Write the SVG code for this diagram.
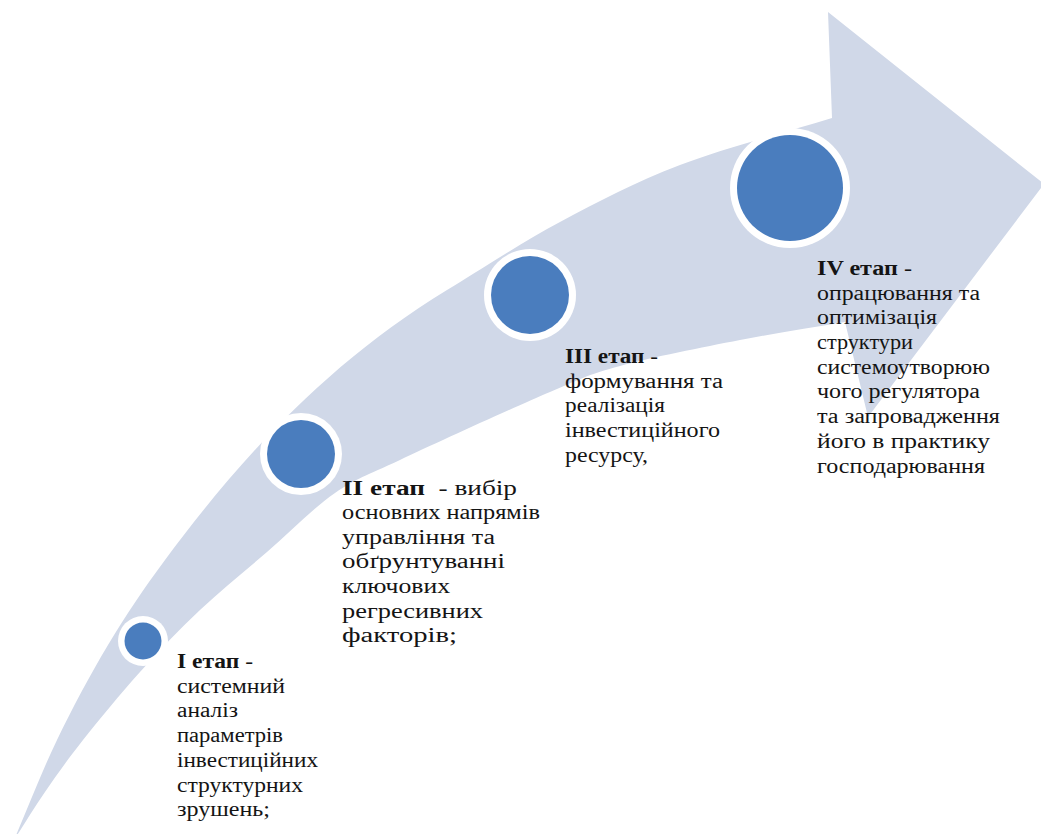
<svg xmlns="http://www.w3.org/2000/svg" width="1041" height="834" viewBox="0 0 1041 834">
<style>
.band{fill:#D0D8E8;stroke:none}
.ring{fill:#FFFFFF}
.dot{fill:#4A7DBE}
.t{font-family:"Liberation Serif","Times New Roman",serif;font-size:20px;fill:#141414}
.b{font-weight:bold}
</style>
<rect width="1041" height="834" fill="#FFFFFF"/>
<g id="connectors">
<path id="arrow" class="band" d="M14,840 C28.3,806.7 41.3,772.5 57,740 C72.7,707.5 90,675 108,645 C126,615 143,589.7 165,560 C228,475 317,369 447,290 C480,270 521.2,242.8 560,222 C598.8,201.2 634.7,182.3 680,165 C725.3,147.7 781.3,133.7 832,118 L828,12 L1044,184 L868,417 L845,322 C810,328 777.5,332.7 740,340 C702.5,347.3 651.7,357.3 620,366 C588.3,374.7 586.7,376.3 550,392 C513.3,407.7 435.8,443.2 400,460 C364.2,476.8 357.2,477.7 335,493 C312.8,508.3 289.5,532.5 267,552 C244.5,571.5 221.2,590 200,610 C178.8,630 159.5,650.3 140,672 C120.5,693.7 98.8,720 83,740 C67.2,760 56.5,775.3 45,792 C33.5,808.7 24.3,824 14,840 Z"/>
</g>
<g id="stage1">
<circle class="ring" cx="143" cy="641" r="25"/>
<circle class="dot" cx="143" cy="641" r="18.5"/>
<text class="t" x="177" y="668" textLength="76" lengthAdjust="spacingAndGlyphs"><tspan class="b">I етап</tspan> -</text>
<text class="t" x="177" y="693" textLength="108" lengthAdjust="spacingAndGlyphs">системний</text>
<text class="t" x="177" y="717" textLength="61" lengthAdjust="spacingAndGlyphs">аналіз</text>
<text class="t" x="177" y="742" textLength="106" lengthAdjust="spacingAndGlyphs">параметрів</text>
<text class="t" x="177" y="767" textLength="141" lengthAdjust="spacingAndGlyphs">інвестиційних</text>
<text class="t" x="177" y="792" textLength="126" lengthAdjust="spacingAndGlyphs">структурних</text>
<text class="t" x="177" y="816" textLength="93" lengthAdjust="spacingAndGlyphs">зрушень;</text>
</g>
<g id="stage2">
<circle class="ring" cx="301" cy="454" r="41"/>
<circle class="dot" cx="301" cy="454" r="34"/>
<text class="t" x="342" y="495" textLength="175" lengthAdjust="spacingAndGlyphs" xml:space="preserve"><tspan class="b">II етап</tspan>  - вибір</text>
<text class="t" x="342" y="519" textLength="198" lengthAdjust="spacingAndGlyphs">основних напрямів</text>
<text class="t" x="342" y="544" textLength="153" lengthAdjust="spacingAndGlyphs">управління та</text>
<text class="t" x="342" y="568" textLength="163" lengthAdjust="spacingAndGlyphs">обґрунтуванні</text>
<text class="t" x="342" y="593" textLength="108" lengthAdjust="spacingAndGlyphs">ключових</text>
<text class="t" x="342" y="618" textLength="141" lengthAdjust="spacingAndGlyphs">регресивних</text>
<text class="t" x="342" y="642" textLength="115" lengthAdjust="spacingAndGlyphs">факторів;</text>
</g>
<g id="stage3">
<circle class="ring" cx="530" cy="295" r="46"/>
<circle class="dot" cx="530" cy="295" r="39"/>
<text class="t" x="565" y="363" textLength="93" lengthAdjust="spacingAndGlyphs"><tspan class="b">III етап</tspan> -</text>
<text class="t" x="565" y="388" textLength="158" lengthAdjust="spacingAndGlyphs">формування та</text>
<text class="t" x="565" y="412" textLength="100" lengthAdjust="spacingAndGlyphs">реалізація</text>
<text class="t" x="565" y="437" textLength="155" lengthAdjust="spacingAndGlyphs">інвестиційного</text>
<text class="t" x="565" y="462" textLength="83" lengthAdjust="spacingAndGlyphs">ресурсу,</text>
</g>
<g id="stage4">
<circle class="ring" cx="790" cy="188" r="60"/>
<circle class="dot" cx="790" cy="188" r="53"/>
<text class="t" x="817" y="275" textLength="95" lengthAdjust="spacingAndGlyphs"><tspan class="b">IV етап</tspan> -</text>
<text class="t" x="817" y="300" textLength="163" lengthAdjust="spacingAndGlyphs">опрацювання та</text>
<text class="t" x="817" y="324" textLength="120" lengthAdjust="spacingAndGlyphs">оптимізація</text>
<text class="t" x="817" y="349" textLength="96" lengthAdjust="spacingAndGlyphs">структури</text>
<text class="t" x="817" y="374" textLength="173" lengthAdjust="spacingAndGlyphs">системоутворюю</text>
<text class="t" x="817" y="398" textLength="163" lengthAdjust="spacingAndGlyphs">чого регулятора</text>
<text class="t" x="817" y="423" textLength="183" lengthAdjust="spacingAndGlyphs">та запровадження</text>
<text class="t" x="817" y="448" textLength="173" lengthAdjust="spacingAndGlyphs">його в практику</text>
<text class="t" x="817" y="473" textLength="168" lengthAdjust="spacingAndGlyphs">господарювання</text>
</g>
</svg>
